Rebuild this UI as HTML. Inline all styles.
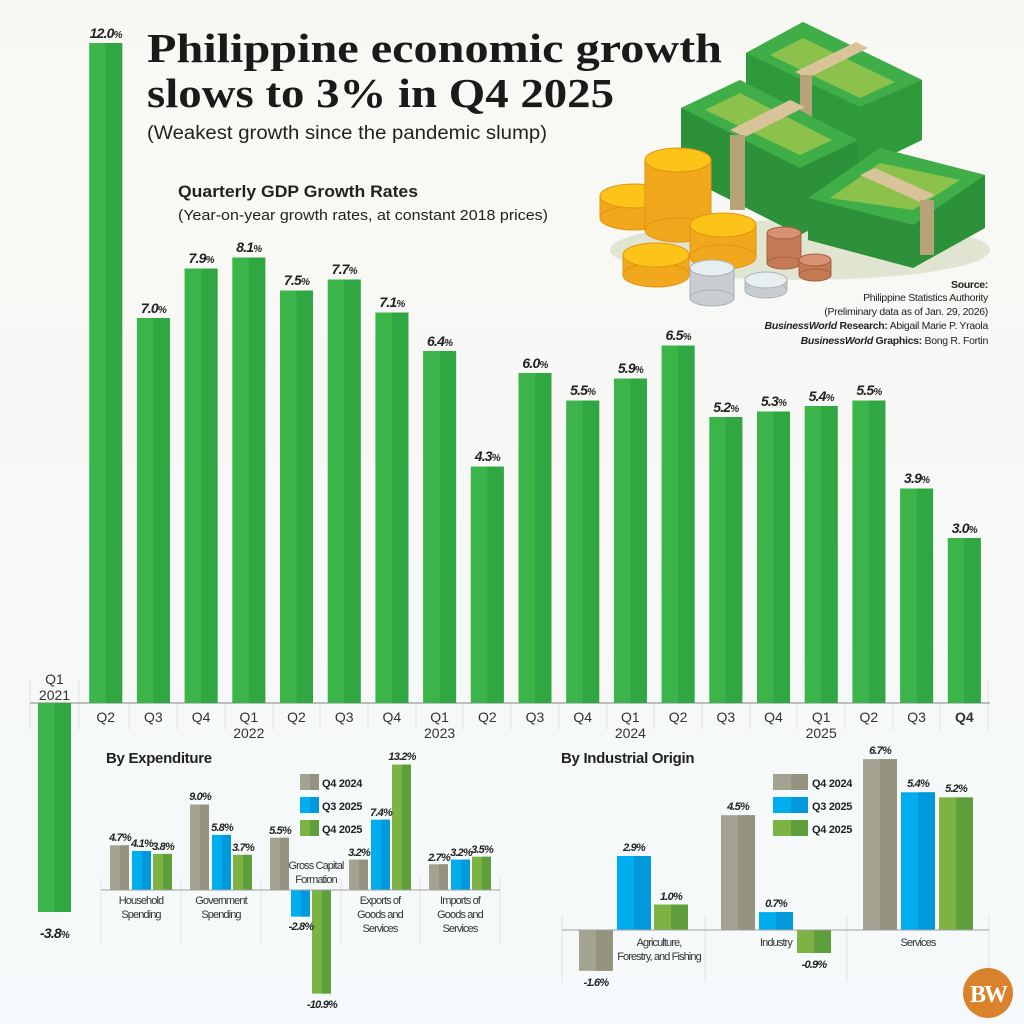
<!DOCTYPE html>
<html><head><meta charset="utf-8"><style>
html,body{margin:0;padding:0;background:#f8f8f4;}
svg{display:block;font-family:"Liberation Sans",sans-serif;}
.v{font-weight:bold;font-style:italic;font-size:14px;fill:#222;text-anchor:middle;letter-spacing:-0.8px}
.sv{font-weight:bold;font-style:italic;font-size:11px;fill:#222;text-anchor:middle;letter-spacing:-0.8px}
.ax{font-size:14px;fill:#333;text-anchor:middle}
.cl{font-size:11px;fill:#333;text-anchor:middle;letter-spacing:-0.9px}
.lg{font-size:11px;fill:#222;font-weight:bold;letter-spacing:-0.3px}
</style></head><body>
<svg width="1024" height="1024" viewBox="0 0 1024 1024">
<defs><linearGradient id="bg" x1="0" y1="0" x2="0" y2="1"><stop offset="0" stop-color="#f8f8f3"/><stop offset="1" stop-color="#f6f9fb"/></linearGradient></defs>
<rect width="1024" height="1024" fill="url(#bg)"/>

<!-- money illustration -->
<g>
<ellipse cx="800" cy="250" rx="190" ry="30" fill="#cfd9b8" opacity="0.6"/>
<polygon points="746,53 803,22 922,80 922,140 860,170 746,110" fill="#2f9a3c"/>
<polygon points="746,53 803,22 922,80 860,107" fill="#3fae48"/>
<polygon points="770,55 803,38 895,82 860,98" fill="#8cc24c"/>
<polygon points="795,72 856,42 868,48 808,78" fill="#d9c49a"/>
<rect x="800" y="75" width="12" height="60" fill="#b8a27a"/>
<polygon points="681,108 740,80 858,140 858,205 800,235 681,175" fill="#2c9139"/>
<polygon points="681,108 740,80 858,140 800,168" fill="#3fae48"/>
<polygon points="705,110 740,93 832,140 800,155" fill="#8cc24c"/>
<polygon points="730,130 790,100 805,107 745,137" fill="#d9c49a"/>
<rect x="730" y="135" width="15" height="75" fill="#b8a27a"/>
<polygon points="808,198 880,148 985,175 985,228 913,268 808,240" fill="#2c9139"/>
<polygon points="808,198 880,148 985,175 913,225" fill="#3fae48"/>
<polygon points="830,198 880,163 960,180 913,210" fill="#8cc24c"/>
<polygon points="860,175 875,168 935,195 920,202" fill="#d9c49a"/>
<rect x="920" y="200" width="14" height="55" fill="#b8a27a"/>
<g fill="#f2a81c" stroke="#e09412" stroke-width="1">
<rect x="600" y="196" width="68" height="22"/><ellipse cx="634" cy="218" rx="34" ry="12"/><ellipse cx="634" cy="196" rx="34" ry="12" fill="#fcc419"/>
<rect x="645" y="160" width="66" height="70"/><ellipse cx="678" cy="230" rx="33" ry="12"/><ellipse cx="678" cy="160" rx="33" ry="12" fill="#fcc419"/>
<rect x="690" y="225" width="66" height="32"/><ellipse cx="723" cy="257" rx="33" ry="12"/><ellipse cx="723" cy="225" rx="33" ry="12" fill="#fcc419"/>
<rect x="623" y="255" width="66" height="20"/><ellipse cx="656" cy="275" rx="33" ry="12"/><ellipse cx="656" cy="255" rx="33" ry="12" fill="#fcc419"/>
</g>
<g fill="#c8ced0" stroke="#aab2b5"><rect x="690" y="268" width="44" height="30"/><ellipse cx="712" cy="298" rx="22" ry="8"/><ellipse cx="712" cy="268" rx="22" ry="8" fill="#e6eef0"/>
<rect x="745" y="280" width="42" height="10"/><ellipse cx="766" cy="290" rx="21" ry="8"/><ellipse cx="766" cy="280" rx="21" ry="8" fill="#e6eef0"/></g>
<g fill="#c47a55" stroke="#a9603f"><rect x="767" y="233" width="34" height="30"/><ellipse cx="784" cy="263" rx="17" ry="6"/><ellipse cx="784" cy="233" rx="17" ry="6" fill="#d69272"/>
<rect x="799" y="260" width="32" height="15"/><ellipse cx="815" cy="275" rx="16" ry="6"/><ellipse cx="815" cy="260" rx="16" ry="6" fill="#d69272"/></g>
</g>

<!-- titles -->
<text x="147" y="62" font-family="Liberation Serif,serif" font-weight="bold" font-size="41" fill="#1a1a1a" textLength="575" lengthAdjust="spacingAndGlyphs">Philippine economic growth</text>
<text x="147" y="107" font-family="Liberation Serif,serif" font-weight="bold" font-size="41" fill="#1a1a1a" textLength="467" lengthAdjust="spacingAndGlyphs">slows to 3% in Q4 2025</text>
<text x="147" y="139" font-size="19" fill="#222" textLength="400" lengthAdjust="spacingAndGlyphs">(Weakest growth since the pandemic slump)</text>
<text x="178" y="197" font-size="17" font-weight="bold" fill="#222" textLength="240" lengthAdjust="spacingAndGlyphs">Quarterly GDP Growth Rates</text>
<text x="178" y="220" font-size="15" fill="#222" textLength="370" lengthAdjust="spacingAndGlyphs">(Year-on-year growth rates, at constant 2018 prices)</text>

<g font-size="10.5" fill="#222" text-anchor="end" letter-spacing="-0.3">
<text x="988" y="288" font-weight="bold">Source:</text>
<text x="988" y="301">Philippine Statistics Authority</text>
<text x="988" y="315">(Preliminary data as of Jan. 29, 2026)</text>
<text x="988" y="329"><tspan font-weight="bold" font-style="italic">BusinessWorld</tspan><tspan font-weight="bold"> Research:</tspan> Abigail Marie P. Yraola</text>
<text x="988" y="344"><tspan font-weight="bold" font-style="italic">BusinessWorld</tspan><tspan font-weight="bold"> Graphics:</tspan> Bong R. Fortin</text>
</g>

<g stroke="#e2e4e2" stroke-width="1">
<line x1="30" y1="680" x2="30" y2="730"/><line x1="79" y1="680" x2="79" y2="730"/><line x1="129" y1="703" x2="129" y2="730"/><line x1="177" y1="703" x2="177" y2="730"/><line x1="225" y1="703" x2="225" y2="730"/><line x1="273" y1="703" x2="273" y2="730"/><line x1="320" y1="703" x2="320" y2="730"/><line x1="368" y1="703" x2="368" y2="730"/><line x1="416" y1="703" x2="416" y2="730"/><line x1="463" y1="703" x2="463" y2="730"/><line x1="511" y1="703" x2="511" y2="730"/><line x1="559" y1="703" x2="559" y2="730"/><line x1="607" y1="703" x2="607" y2="730"/><line x1="654" y1="703" x2="654" y2="730"/><line x1="702" y1="703" x2="702" y2="730"/><line x1="750" y1="703" x2="750" y2="730"/><line x1="797" y1="703" x2="797" y2="730"/><line x1="845" y1="703" x2="845" y2="730"/><line x1="893" y1="703" x2="893" y2="730"/><line x1="940" y1="703" x2="940" y2="730"/><line x1="988" y1="680" x2="988" y2="730"/>
</g>
<line x1="30" y1="703" x2="990" y2="703" stroke="#9a9a9a" stroke-width="1.2"/>

<g fill="#3bb54a">
<rect x="38" y="703" width="33" height="209"/>
<rect x="89.2" y="43" width="33" height="660"/>
<rect x="136.9" y="318" width="33" height="385"/>
<rect x="184.6" y="268.5" width="33" height="434.5"/>
<rect x="232.3" y="257.5" width="33" height="445.5"/>
<rect x="280" y="290.5" width="33" height="412.5"/>
<rect x="327.7" y="279.5" width="33" height="423.5"/>
<rect x="375.4" y="312.5" width="33" height="390.5"/>
<rect x="423.1" y="351" width="33" height="352"/>
<rect x="470.8" y="466.5" width="33" height="236.5"/>
<rect x="518.5" y="373" width="33" height="330"/>
<rect x="566.2" y="400.5" width="33" height="302.5"/>
<rect x="613.9" y="378.5" width="33" height="324.5"/>
<rect x="661.6" y="345.5" width="33" height="357.5"/>
<rect x="709.3" y="417" width="33" height="286"/>
<rect x="757" y="411.5" width="33" height="291.5"/>
<rect x="804.7" y="406" width="33" height="297"/>
<rect x="852.4" y="400.5" width="33" height="302.5"/>
<rect x="900.1" y="488.5" width="33" height="214.5"/>
<rect x="947.8" y="538" width="33" height="165"/>
</g>
<g fill="#31a744">
<rect x="54.5" y="703" width="16.5" height="209"/>
<rect x="105.7" y="43" width="16.5" height="660"/>
<rect x="153.4" y="318" width="16.5" height="385"/>
<rect x="201.1" y="268.5" width="16.5" height="434.5"/>
<rect x="248.8" y="257.5" width="16.5" height="445.5"/>
<rect x="296.5" y="290.5" width="16.5" height="412.5"/>
<rect x="344.2" y="279.5" width="16.5" height="423.5"/>
<rect x="391.9" y="312.5" width="16.5" height="390.5"/>
<rect x="439.6" y="351" width="16.5" height="352"/>
<rect x="487.3" y="466.5" width="16.5" height="236.5"/>
<rect x="535" y="373" width="16.5" height="330"/>
<rect x="582.7" y="400.5" width="16.5" height="302.5"/>
<rect x="630.4" y="378.5" width="16.5" height="324.5"/>
<rect x="678.1" y="345.5" width="16.5" height="357.5"/>
<rect x="725.8" y="417" width="16.5" height="286"/>
<rect x="773.5" y="411.5" width="16.5" height="291.5"/>
<rect x="821.2" y="406" width="16.5" height="297"/>
<rect x="868.9" y="400.5" width="16.5" height="302.5"/>
<rect x="916.6" y="488.5" width="16.5" height="214.5"/>
<rect x="964.3" y="538" width="16.5" height="165"/>
</g>
<g class="v">
<text x="54.5" y="938">-3.8<tspan font-size="10">%</tspan></text>
<text x="105.7" y="38">12.0<tspan font-size="10">%</tspan></text>
<text x="153.4" y="313">7.0<tspan font-size="10">%</tspan></text>
<text x="201.1" y="263">7.9<tspan font-size="10">%</tspan></text>
<text x="248.8" y="252">8.1<tspan font-size="10">%</tspan></text>
<text x="296.5" y="285">7.5<tspan font-size="10">%</tspan></text>
<text x="344.2" y="274">7.7<tspan font-size="10">%</tspan></text>
<text x="391.9" y="307">7.1<tspan font-size="10">%</tspan></text>
<text x="439.6" y="346">6.4<tspan font-size="10">%</tspan></text>
<text x="487.3" y="461">4.3<tspan font-size="10">%</tspan></text>
<text x="535" y="368">6.0<tspan font-size="10">%</tspan></text>
<text x="582.7" y="395">5.5<tspan font-size="10">%</tspan></text>
<text x="630.4" y="373">5.9<tspan font-size="10">%</tspan></text>
<text x="678.1" y="340">6.5<tspan font-size="10">%</tspan></text>
<text x="725.8" y="412">5.2<tspan font-size="10">%</tspan></text>
<text x="773.5" y="406">5.3<tspan font-size="10">%</tspan></text>
<text x="821.2" y="401">5.4<tspan font-size="10">%</tspan></text>
<text x="868.9" y="395">5.5<tspan font-size="10">%</tspan></text>
<text x="916.6" y="483">3.9<tspan font-size="10">%</tspan></text>
<text x="964.3" y="533">3.0<tspan font-size="10">%</tspan></text>
</g>
<g class="ax">
<text x="54.5" y="684">Q1</text><text x="54.5" y="700">2021</text>
<text x="105.7" y="722">Q2</text><text x="153.4" y="722">Q3</text><text x="201.1" y="722">Q4</text>
<text x="248.8" y="722">Q1</text><text x="248.8" y="738">2022</text>
<text x="296.5" y="722">Q2</text><text x="344.2" y="722">Q3</text><text x="391.9" y="722">Q4</text>
<text x="439.6" y="722">Q1</text><text x="439.6" y="738">2023</text>
<text x="487.3" y="722">Q2</text><text x="535" y="722">Q3</text><text x="582.7" y="722">Q4</text>
<text x="630.4" y="722">Q1</text><text x="630.4" y="738">2024</text>
<text x="678.1" y="722">Q2</text><text x="725.8" y="722">Q3</text><text x="773.5" y="722">Q4</text>
<text x="821.2" y="722">Q1</text><text x="821.2" y="738">2025</text>
<text x="868.9" y="722">Q2</text><text x="916.6" y="722">Q3</text><text x="964.3" y="722" font-weight="bold">Q4</text>
</g>

<!-- By Expenditure -->
<text x="106" y="763" font-size="15" font-weight="bold" fill="#222" letter-spacing="-0.3">By Expenditure</text>
<g stroke="#e2e4e2"><line x1="101" y1="878" x2="101" y2="945"/><line x1="181" y1="878" x2="181" y2="945"/><line x1="261" y1="878" x2="261" y2="945"/><line x1="341" y1="878" x2="341" y2="945"/><line x1="420" y1="878" x2="420" y2="945"/><line x1="500" y1="878" x2="500" y2="945"/></g>
<g>
<rect x="110" y="845.3" width="19" height="44.7" fill="#a4a391"/><rect x="120" y="845.3" width="9" height="44.7" fill="#93937f"/>
<rect x="190" y="804.5" width="19" height="85.5" fill="#a4a391"/><rect x="200" y="804.5" width="9" height="85.5" fill="#93937f"/>
<rect x="270" y="837.7" width="19" height="52.3" fill="#a4a391"/><rect x="280" y="837.7" width="9" height="52.3" fill="#93937f"/>
<rect x="349" y="859.6" width="19" height="30.4" fill="#a4a391"/><rect x="359" y="859.6" width="9" height="30.4" fill="#93937f"/>
<rect x="429" y="864.3" width="19" height="25.7" fill="#a4a391"/><rect x="439" y="864.3" width="9" height="25.7" fill="#93937f"/>
<rect x="132" y="851" width="19" height="39" fill="#00aeef"/><rect x="142" y="851" width="9" height="39" fill="#0099db"/>
<rect x="212" y="834.9" width="19" height="55.1" fill="#00aeef"/><rect x="222" y="834.9" width="9" height="55.1" fill="#0099db"/>
<rect x="291" y="890" width="19" height="26.6" fill="#00aeef"/><rect x="301" y="890" width="9" height="26.6" fill="#0099db"/>
<rect x="371" y="819.7" width="19" height="70.3" fill="#00aeef"/><rect x="381" y="819.7" width="9" height="70.3" fill="#0099db"/>
<rect x="451" y="859.6" width="19" height="30.4" fill="#00aeef"/><rect x="461" y="859.6" width="9" height="30.4" fill="#0099db"/>
<rect x="153" y="853.9" width="19" height="36.1" fill="#7cb342"/><rect x="163" y="853.9" width="9" height="36.1" fill="#5f9f3b"/>
<rect x="233" y="854.8" width="19" height="35.2" fill="#7cb342"/><rect x="243" y="854.8" width="9" height="35.2" fill="#5f9f3b"/>
<rect x="312" y="890" width="19" height="103.6" fill="#7cb342"/><rect x="322" y="890" width="9" height="103.6" fill="#5f9f3b"/>
<rect x="392" y="764.6" width="19" height="125.4" fill="#7cb342"/><rect x="402" y="764.6" width="9" height="125.4" fill="#5f9f3b"/>
<rect x="472" y="856.7" width="19" height="33.3" fill="#7cb342"/><rect x="482" y="856.7" width="9" height="33.3" fill="#5f9f3b"/>
</g>
<line x1="101" y1="890" x2="500" y2="890" stroke="#a0a0a0"/>
<g class="sv">
<text x="120" y="841">4.7%</text><text x="142" y="847">4.1%</text><text x="163" y="850">3.8%</text>
<text x="200" y="800">9.0%</text><text x="222" y="831">5.8%</text><text x="243" y="851">3.7%</text>
<text x="280" y="834">5.5%</text><text x="301" y="930">-2.8%</text><text x="322" y="1008">-10.9%</text>
<text x="359" y="856">3.2%</text><text x="381" y="816">7.4%</text><text x="402" y="760">13.2%</text>
<text x="439" y="861">2.7%</text><text x="461" y="856">3.2%</text><text x="482" y="853">3.5%</text>
</g>
<g class="cl">
<text x="141" y="904">Household</text><text x="141" y="918">Spending</text>
<text x="221" y="904">Government</text><text x="221" y="918">Spending</text>
<text x="316" y="869">Gross Capital</text><text x="316" y="883">Formation</text>
<text x="380" y="904">Exports of</text><text x="380" y="918">Goods and</text><text x="380" y="932">Services</text>
<text x="460" y="904">Imports of</text><text x="460" y="918">Goods and</text><text x="460" y="932">Services</text>
</g>
<rect x="300" y="774" width="19" height="16" fill="#a4a391"/><rect x="310" y="774" width="9" height="16" fill="#93937f"/>
<rect x="300" y="797" width="19" height="16" fill="#00aeef"/><rect x="310" y="797" width="9" height="16" fill="#0099db"/>
<rect x="300" y="820" width="19" height="16" fill="#7cb342"/><rect x="310" y="820" width="9" height="16" fill="#5f9f3b"/>
<text class="lg" x="322" y="787" font-weight="normal">Q4 2024</text><text class="lg" x="322" y="810" font-weight="normal">Q3 2025</text><text class="lg" x="322" y="833">Q4 2025</text>

<!-- By Industrial Origin -->
<text x="561" y="763" font-size="15" font-weight="bold" fill="#222" letter-spacing="-0.3">By Industrial Origin</text>
<g stroke="#e2e4e2"><line x1="562" y1="915" x2="562" y2="982"/><line x1="705" y1="915" x2="705" y2="982"/><line x1="847" y1="915" x2="847" y2="982"/><line x1="989" y1="915" x2="989" y2="982"/></g>
<g>
<rect x="579" y="930" width="34" height="40.8" fill="#a4a391"/><rect x="596" y="930" width="17" height="40.8" fill="#93937f"/>
<rect x="721" y="815.2" width="34" height="114.8" fill="#a4a391"/><rect x="738" y="815.2" width="17" height="114.8" fill="#93937f"/>
<rect x="863" y="759.1" width="34" height="170.9" fill="#a4a391"/><rect x="880" y="759.1" width="17" height="170.9" fill="#93937f"/>
<rect x="617" y="856" width="34" height="74" fill="#00aeef"/><rect x="634" y="856" width="17" height="74" fill="#0099db"/>
<rect x="759" y="912.1" width="34" height="17.9" fill="#00aeef"/><rect x="776" y="912.1" width="17" height="17.9" fill="#0099db"/>
<rect x="901" y="792.3" width="34" height="137.7" fill="#00aeef"/><rect x="918" y="792.3" width="17" height="137.7" fill="#0099db"/>
<rect x="654" y="904.5" width="34" height="25.5" fill="#7cb342"/><rect x="671" y="904.5" width="17" height="25.5" fill="#5f9f3b"/>
<rect x="797" y="930" width="34" height="23" fill="#7cb342"/><rect x="814" y="930" width="17" height="23" fill="#5f9f3b"/>
<rect x="939" y="797.4" width="34" height="132.6" fill="#7cb342"/><rect x="956" y="797.4" width="17" height="132.6" fill="#5f9f3b"/>
</g>
<line x1="562" y1="930" x2="989" y2="930" stroke="#a0a0a0"/>
<g class="sv">
<text x="596" y="986">-1.6%</text><text x="634" y="851">2.9%</text><text x="671" y="900">1.0%</text>
<text x="738" y="810">4.5%</text><text x="776" y="907">0.7%</text><text x="814" y="968">-0.9%</text>
<text x="880" y="754">6.7%</text><text x="918" y="787">5.4%</text><text x="956" y="792">5.2%</text>
</g>
<g class="cl">
<text x="659" y="946">Agriculture,</text><text x="659" y="960">Forestry, and Fishing</text>
<text x="776" y="946">Industry</text>
<text x="918" y="946">Services</text>
</g>
<rect x="773" y="774" width="35" height="16" fill="#a4a391"/><rect x="791" y="774" width="17" height="16" fill="#93937f"/>
<rect x="773" y="797" width="35" height="16" fill="#00aeef"/><rect x="791" y="797" width="17" height="16" fill="#0099db"/>
<rect x="773" y="820" width="35" height="16" fill="#7cb342"/><rect x="791" y="820" width="17" height="16" fill="#5f9f3b"/>
<text class="lg" x="812" y="787" font-weight="normal">Q4 2024</text><text class="lg" x="812" y="810" font-weight="normal">Q3 2025</text><text class="lg" x="812" y="833">Q4 2025</text>

<circle cx="988" cy="993" r="25" fill="#d9822b"/>
<text x="988" y="1002" text-anchor="middle" font-family="Liberation Serif,serif" font-weight="bold" font-size="24" fill="#fff" letter-spacing="-2">BW</text>
</svg>
</body></html>
